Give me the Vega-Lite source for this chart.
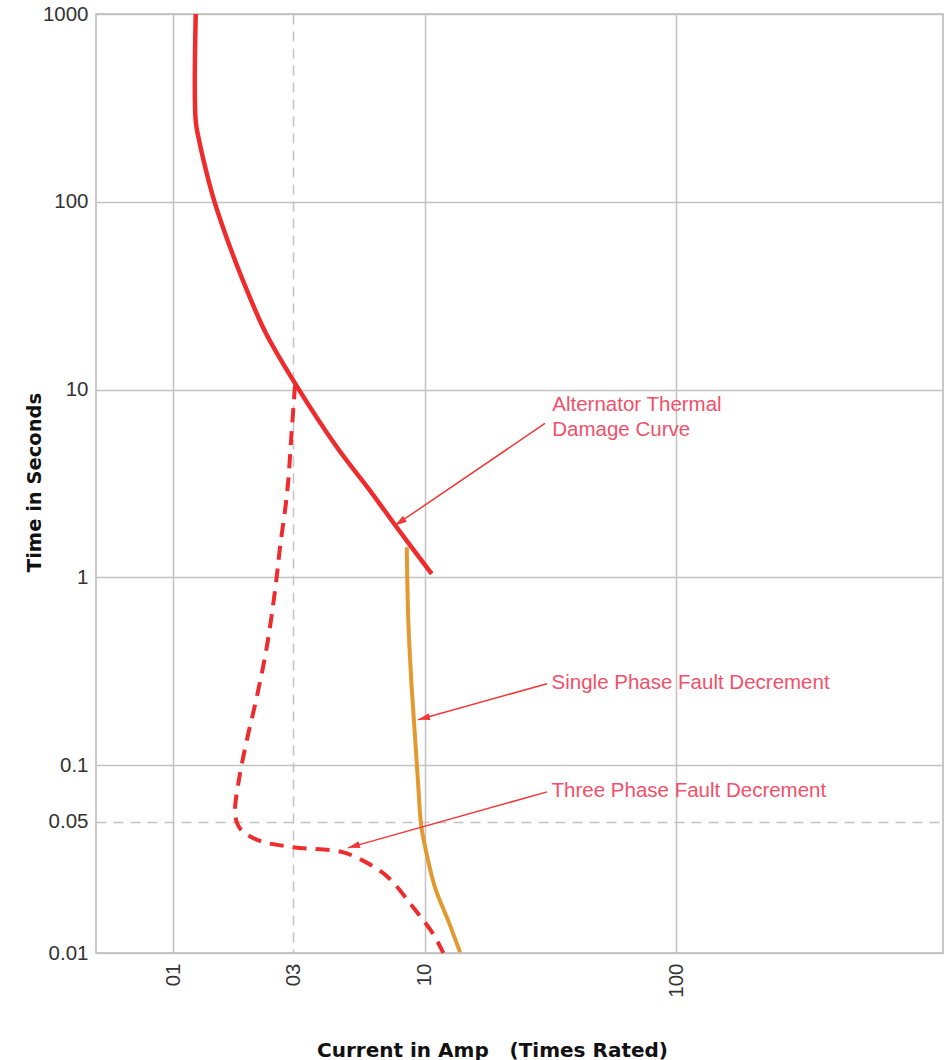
{
  "$schema": "https://vega.github.io/schema/vega-lite/v6.json",
  "width": 847,
  "height": 939,
  "autosize": {"type": "none"},
  "padding": {"left": 96, "top": 14, "right": 1, "bottom": 107},
  "background": "white",
  "datasets": {
    "thermal": [
      {"i": 0, "x": 1.231, "y": 1000},
      {"i": 1, "x": 1.231, "y": 269},
      {"i": 2, "x": 1.269, "y": 213},
      {"i": 3, "x": 1.322, "y": 166.6},
      {"i": 4, "x": 1.455, "y": 102},
      {"i": 5, "x": 1.647, "y": 62.4},
      {"i": 6, "x": 1.942, "y": 35.2},
      {"i": 7, "x": 2.343, "y": 19.9},
      {"i": 8, "x": 3.056, "y": 10.8},
      {"i": 9, "x": 4.5, "y": 4.9},
      {"i": 10, "x": 6.07, "y": 2.9},
      {"i": 11, "x": 7.75, "y": 1.85},
      {"i": 12, "x": 10.68, "y": 1.044}
    ],
    "threephase": [
      {"i": 0, "x": 3.056, "y": 10.53},
      {"i": 1, "x": 2.965, "y": 6.06},
      {"i": 2, "x": 2.848, "y": 2.9},
      {"i": 3, "x": 2.664, "y": 1.447},
      {"i": 4, "x": 2.544, "y": 0.85},
      {"i": 5, "x": 2.358, "y": 0.424},
      {"i": 6, "x": 2.151, "y": 0.2296},
      {"i": 7, "x": 1.963, "y": 0.1349},
      {"i": 8, "x": 1.835, "y": 0.086},
      {"i": 9, "x": 1.764, "y": 0.0571},
      {"i": 10, "x": 1.797, "y": 0.0493},
      {"i": 11, "x": 1.881, "y": 0.0447},
      {"i": 12, "x": 2.218, "y": 0.0395},
      {"i": 13, "x": 3.008, "y": 0.0366},
      {"i": 14, "x": 4.613, "y": 0.0347},
      {"i": 15, "x": 5.54, "y": 0.0316},
      {"i": 16, "x": 7.07, "y": 0.0257},
      {"i": 17, "x": 9.03, "y": 0.01744},
      {"i": 18, "x": 10.84, "y": 0.01258},
      {"i": 19, "x": 11.88, "y": 0.01}
    ],
    "singlephase": [
      {"i": 0, "x": 8.5, "y": 1.447},
      {"i": 1, "x": 8.62, "y": 0.5885},
      {"i": 2, "x": 8.89, "y": 0.2596},
      {"i": 3, "x": 9.17, "y": 0.1405},
      {"i": 4, "x": 9.45, "y": 0.0761},
      {"i": 5, "x": 9.7, "y": 0.0478},
      {"i": 6, "x": 10.2, "y": 0.0336},
      {"i": 7, "x": 11.01, "y": 0.0223},
      {"i": 8, "x": 12.43, "y": 0.01483},
      {"i": 9, "x": 13.84, "y": 0.0101}
    ],
    "arrows": [
      {"name": "thermal", "x": 30.1, "y": 6.6, "x2": 7.63, "y2": 1.89},
      {"name": "single", "x": 30.7, "y": 0.2716, "x2": 9.42, "y2": 0.1746},
      {"name": "three", "x": 30.7, "y": 0.0721, "x2": 4.96, "y2": 0.0363}
    ],
    "heads": [
      {"name": "thermal", "x": 7.63, "y": 1.89},
      {"name": "single", "x": 9.42, "y": 0.1746},
      {"name": "three", "x": 4.96, "y": 0.0363}
    ],
    "labels": [
      {"label": "Alternator Thermal", "x": 32.2, "y": 8.24},
      {"label": "Damage Curve", "x": 32.2, "y": 6.06},
      {"label": "Single Phase Fault Decrement", "x": 32.0, "y": 0.2749},
      {"label": "Three Phase Fault Decrement", "x": 32.0, "y": 0.073}
    ]
  },
  "encoding": {
    "x": {
      "field": "x",
      "type": "quantitative",
      "scale": {"type": "log", "domain": [0.494, 1152], "nice": false, "zero": false},
      "axis": {
        "values": [1, 3, 10, 100],
        "labelExpr": "datum.value < 2 ? '01' : datum.value < 5 ? '03' : datum.value < 50 ? '10' : '100'",
        "labelAngle": 270,
        "labelAlign": "right",
        "labelBaseline": "middle",
        "labelPadding": 10,
        "labelOverlap": false,
        "labelFlush": false,
        "gridDash": {"condition": {"test": "datum.value > 2 && datum.value < 5", "value": [10, 7]}, "value": []},
        "title": "Current in Amp\u00a0\u00a0\u00a0(Times Rated)",
        "titleX": 396,
        "titleY": 103,
        "titleAlign": "center",
        "titleBaseline": "alphabetic"
      }
    },
    "y": {
      "field": "y",
      "type": "quantitative",
      "scale": {"type": "log", "domain": [0.01, 1000], "nice": false, "zero": false},
      "axis": {
        "values": [0.01, 0.05, 0.1, 1, 10, 100, 1000],
        "labelExpr": "format(datum.value, '~g')",
        "labelPadding": 8,
        "labelOverlap": false,
        "labelFlush": false,
        "gridDash": {"condition": {"test": "datum.value > 0.03 && datum.value < 0.07", "value": [10, 7]}, "value": []},
        "title": "Time in Seconds",
        "titleX": -62,
        "titleY": 468,
        "titleAlign": "center",
        "titleBaseline": "middle",
        "titleAngle": 270,
        "titleFontSize": 19.5
      }
    }
  },
  "layer": [
    {
      "data": {"name": "singlephase"},
      "mark": {"type": "line", "color": "#e29a30", "strokeWidth": 4, "interpolate": "catmull-rom"},
      "encoding": {"order": {"field": "i", "type": "quantitative"}}
    },
    {
      "data": {"name": "threephase"},
      "mark": {"type": "line", "color": "#ee2b2d", "strokeWidth": 4, "strokeDash": [14, 9], "strokeCap": "butt", "interpolate": "catmull-rom"},
      "encoding": {"order": {"field": "i", "type": "quantitative"}}
    },
    {
      "data": {"name": "thermal"},
      "mark": {"type": "line", "color": "#ee2b2d", "strokeWidth": 4.5, "interpolate": "catmull-rom"},
      "encoding": {"order": {"field": "i", "type": "quantitative"}}
    },
    {
      "data": {"name": "arrows"},
      "mark": {"type": "rule", "color": "#f03838", "strokeWidth": 1.5},
      "encoding": {
        "x2": {"field": "x2"},
        "y2": {"field": "y2"}
      }
    },
    {
      "data": {"name": "heads"},
      "transform": [{"filter": "datum.name === 'thermal'"}],
      "mark": {"type": "point", "shape": "M0,0L0.7,2.4L-0.7,2.4Z", "filled": true, "size": 100, "color": "#f03838", "opacity": 1, "angle": 235.8, "strokeWidth": 0}
    },
    {
      "data": {"name": "heads"},
      "transform": [{"filter": "datum.name !== 'thermal'"}],
      "mark": {"type": "point", "shape": "M0,0L0.7,2.4L-0.7,2.4Z", "filled": true, "size": 100, "color": "#f03838", "opacity": 1, "angle": 254.4, "strokeWidth": 0}
    },
    {
      "data": {"name": "labels"},
      "mark": {"type": "text", "align": "left", "baseline": "middle", "font": "Liberation Sans", "fontSize": 20.5, "color": "#f2506a"},
      "encoding": {"text": {"field": "label"}}
    }
  ],
  "config": {
    "view": {"stroke": "#b8b8b8", "strokeWidth": 1.5},
    "axis": {
      "domain": false,
      "ticks": false,
      "grid": true,
      "gridColor": "#c2c2c2",
      "gridWidth": 1.5,
      "labelFont": "Liberation Sans",
      "labelFontSize": 20.5,
      "labelColor": "#333333",
      "titleFont": "DejaVu Sans",
      "titleFontWeight": "bold",
      "titleFontSize": 20,
      "titleColor": "#111111"
    }
  }
}
